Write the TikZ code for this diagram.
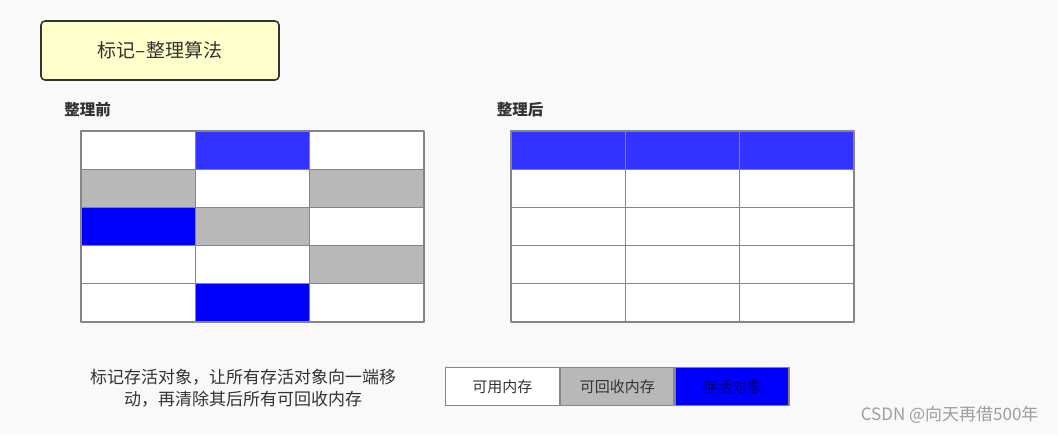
\documentclass[tikz,border=0pt]{standalone}
\usepackage{fontspec}
\setmainfont{Noto Sans CJK SC}
\usetikzlibrary{positioning}
\definecolor{bgc}{HTML}{F9F9F9}
\definecolor{notec}{HTML}{FFFFCC}
\definecolor{cellw}{HTML}{FFFFFF}
\definecolor{celll}{HTML}{3333FF}
\definecolor{cellb}{HTML}{0000FF}
\definecolor{cellg}{HTML}{B8B8B8}
\definecolor{linec}{HTML}{858585}
\definecolor{textc}{HTML}{333333}
\tikzset{
  cellbox/.style={draw=linec, line width=1.3pt},
  titlebox/.style={draw=textc, fill=notec, line width=1.6pt, rounded corners=4pt,
    minimum width=238pt, minimum height=59pt, text=textc, font=\fontsize{19}{21}\selectfont},
  headtext/.style={text=textc, font=\bfseries\fontsize{15.5}{18}\selectfont},
  legendbox/.style={draw=linec, line width=1.3pt, minimum width=113.6pt, minimum height=37.5pt,
    inner sep=0pt, text=textc, font=\fontsize{15}{18}\selectfont},
}
\begin{document}
\begin{tikzpicture}[x=1pt, y=-1pt, line join=round]
\def\w{114.33} \def\h{38.2} % cell size
\def\xa{81} \def\xb{511} \def\ytop{131}
\fill[bgc] (0,0) rectangle (1058,434);
\useasboundingbox (0,0) rectangle (1058,434);
\node[titlebox] (title) at (160,50.5) {标记–整理算法};
\node[headtext] (before) at (87.5,110) {整理前};
\node[headtext] (after) at (520,110) {整理后};
% grid before compacting
\foreach \row [count=\r from 0] in {{w,l,w},{g,w,g},{b,g,w},{w,w,g},{w,b,w}}
  \foreach \col [count=\c from 0] in \row
    \draw[cellbox, fill=cell\col] ({\xa+\c*\w},{\ytop+\r*\h}) rectangle ++(\w,\h);
% grid after compacting
\foreach \row [count=\r from 0] in {{l,l,l},{w,w,w},{w,w,w},{w,w,w},{w,w,w}}
  \foreach \col [count=\c from 0] in \row
    \draw[cellbox, fill=cell\col] ({\xb+\c*\w},{\ytop+\r*\h}) rectangle ++(\w,\h);
\node[text=textc, align=center, font=\fontsize{17}{22}\selectfont] (note) at (243,388)
  {标记存活对象，让所有存活对象向一端移\\动，再清除其后所有可回收内存};
% legend
\node[legendbox, fill=cellw] (free) at (502.4,386.5) {可用内存};
\node[legendbox, fill=cellg, right=0pt of free] (garbage) {可回收内存};
\node[legendbox, fill=cellb, right=0pt of garbage, text=blue!40!black] (alive) {存活对象};
\node[text=black!38, anchor=east, font=\fontsize{17}{19}\selectfont] (mark) at (1042,415) {CSDN @向天再借500年};
\end{tikzpicture}
\end{document}
